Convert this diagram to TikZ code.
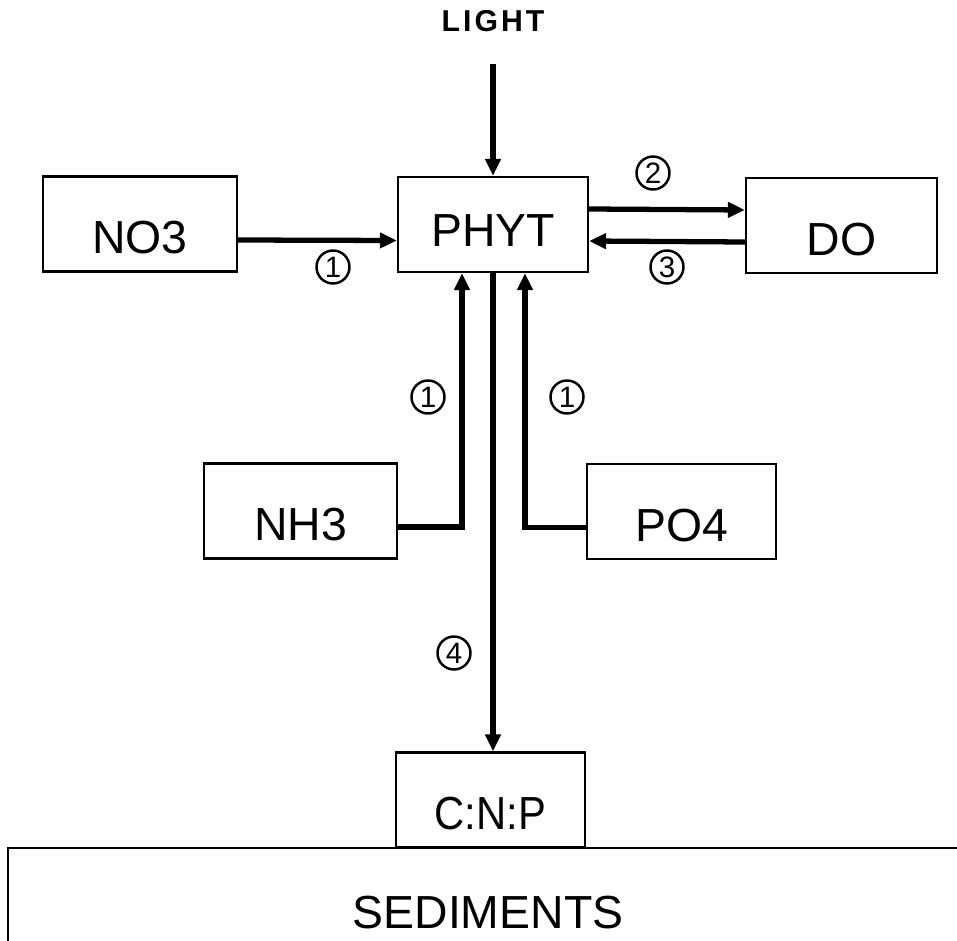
\documentclass[tikz,border=0pt]{standalone}
\usepackage{fontspec}
\setmainfont{Liberation Sans}
\newfontfamily\wideface[LetterSpace=10]{Liberation Sans}
\newfontfamily\slimface[FakeStretch=0.9]{Liberation Sans}
\usetikzlibrary{arrows.meta, positioning}
\tikzset{
  flow/.style     = {-{Triangle[length=1.7mm, width=1.5mm]}, line width=1.5pt, black},
  pool/.style     = {draw, line width=0.6pt, minimum width=1.9cm, minimum height=0.95cm,
                     inner sep=0pt, text height=0.6cm, text depth=0pt,
                     font=\fontsize{13.2}{15}\selectfont},
  tag/.style      = {circle, draw, line width=0.7pt, inner sep=0pt, minimum size=0.33cm,
                     font=\fontsize{8.4}{9}\selectfont},
  lbl/.style      = {font=\wideface\bfseries\fontsize{8.6}{10}\selectfont},
}

\begin{document}
\begin{tikzpicture}[x=1cm,y=1cm]
  \clip (0,0) rectangle (9.57,-9.41);
  \fill[white] (0,0) rectangle (9.57,-9.41);

  % compartments
  \node[lbl] (light) at (4.93,-0.21) {LIGHT};
  \node[pool, text height=0.44cm, minimum width=1.9cm] (phyt) at (4.93,-2.245) {PHYT};
  \node[pool, minimum width=1.94cm] (no3) at (1.40,-2.24) {NO3};
  \node[pool, minimum width=1.91cm] (do) at (8.415,-2.255) {DO};
  \node[pool, minimum width=1.93cm] (nh3) at (3.005,-5.11) {NH3};
  \node[pool, minimum width=1.89cm] (po4) at (6.815,-5.115) {PO4};
  \node[pool, minimum width=1.89cm, font=\slimface\fontsize{13.2}{15}\selectfont] (cnp) at (4.905,-8.0) {C:N:P};
  \draw[line width=0.6pt] (10,-8.48) -- (0.08,-8.48) -- (0.08,-10);
  \node[font=\fontsize{13.2}{15}\selectfont] (sed) at (4.88,-9.13) {SEDIMENTS};

  % fluxes
  \draw[flow] ([yshift=-0.2cm]light.south) -- (phyt.north);
  \draw[flow] ([yshift=-0.16cm]no3.east) -- ([yshift=-0.16cm]phyt.west);
  \draw[flow] ([yshift=0.155cm]phyt.east) -- ([yshift=0.155cm]do.west);
  \draw[flow] ([yshift=-0.165cm]do.west) -- ([yshift=-0.165cm]phyt.east);
  \draw[flow] ([yshift=-0.16cm]nh3.east) -| ([xshift=-0.31cm]phyt.south);
  \draw[flow] ([yshift=-0.16cm]po4.west) -| ([xshift=0.32cm]phyt.south);
  \draw[flow] (phyt.south) -- (phyt.south |- cnp.north);

  % process numbers
  \node[tag] (t1a) at (3.33,-2.67) {1};
  \node[tag] (t2) at (6.53,-1.73) {2};
  \node[tag] (t3) at (6.67,-2.67) {3};
  \node[tag] (t1b) at (4.28,-3.97) {1};
  \node[tag] (t1c) at (5.67,-3.97) {1};
  \node[tag] (t4) at (4.54,-6.53) {4};
\end{tikzpicture}
\end{document}
